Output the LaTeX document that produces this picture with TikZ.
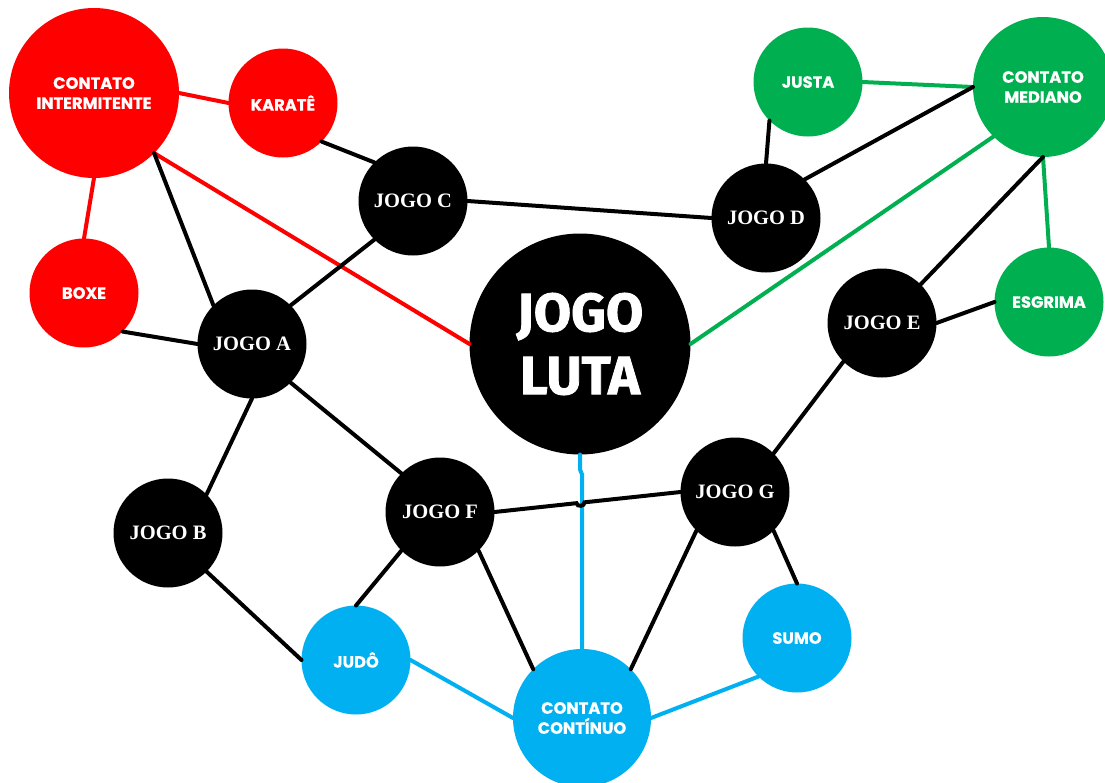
\documentclass[tikz,border=0pt]{standalone}
\usepackage{fontspec}
\setmainfont{Liberation Serif}
\newfontfamily\labfont{Poppins}[BoldFeatures={FakeBold=0.6}]
\newfontfamily\bigfont{Fira Sans}[BoldFeatures={FakeBold=1.5}]
\usetikzlibrary{calc}
\definecolor{cred}{HTML}{FF0000}
\definecolor{cgreen}{HTML}{00B050}
\definecolor{cblue}{HTML}{00B0F0}
\begin{document}
\begin{tikzpicture}[x=1pt,y=-1pt,
  circ/.style={circle, inner sep=0pt, outer sep=0pt, text=white, align=center},
  jogo/.style={circ, fill=black, minimum size=109pt, font=\fontsize{20.5}{22}\selectfont\bfseries},
  catR/.style={circ, fill=cred, font=\labfont\bfseries\fontsize{16.3}{20}\selectfont},
  catG/.style={circ, fill=cgreen, font=\labfont\bfseries\fontsize{16.3}{20}\selectfont},
  catB/.style={circ, fill=cblue, font=\labfont\bfseries\fontsize{16.3}{20}\selectfont},
  edge/.style={line width=4pt, line cap=round},
]
\fill[white] (0,0) rectangle (1105,782);
\useasboundingbox (0,0) rectangle (1105,782);

\node[catR, minimum size=170pt] (ci) at (94,93) {CONTATO\\INTERMITENTE};
\node[catR, minimum size=109pt] (kar) at (283,103) {KARATÊ};
\node[catR, minimum size=109pt] (boxe) at (84,293) {BOXE};
\node[jogo] (ja) at (252,344) {JOGO A};
\node[jogo] (jb) at (168,533) {JOGO B};
\node[jogo] (jc) at (413,201) {JOGO C};
\node[jogo] (jd) at (766,218) {JOGO D};
\node[jogo] (je) at (882,323) {JOGO E};
\node[jogo] (jf) at (440,512) {JOGO F};
\node[jogo] (jg) at (735,492) {JOGO G};
\node[circ, fill=black, minimum size=221pt, font=\bigfont\bfseries\fontsize{54}{63}\selectfont] (luta) at (580,344) {JOGO\\LUTA};
\node[catG, minimum size=109pt] (justa) at (808,82) {JUSTA};
\node[catG, minimum size=140pt] (cm) at (1043,87) {CONTATO\\MEDIANO};
\node[catG, minimum size=109pt] (esg) at (1049,302) {ESGRIMA};
\node[catB, minimum size=109pt] (judo) at (356,660) {JUDÔ};
\node[catB, minimum size=109pt] (sumo) at (797,638) {SUMO};
\node[catB, minimum size=138pt] (cc) at (582,718) {CONTATO\\CONTÍNUO};

% red
\draw[edge, cred] (ci.east) -- (kar.west);
\draw[edge, cred] (ci.south) -- (boxe.north);
\draw[edge, cred] (ci.south east) -- (luta.west);
% green
\draw[edge, cgreen] (justa.east) -- (cm.west);
\draw[edge, cgreen] (cm.south) -- (esg.north);
\draw[edge, cgreen] (cm.south west) -- (luta.east);
% blue
\draw[edge, cblue] (judo.east) -- (cc.west);
\draw[edge, cblue] (sumo.south west) -- (cc.east);
\draw[edge, cblue] (luta.south) -- ++(0,15) -- ++(2,5) -- (cc.north);
% black
\draw[edge] (ci.south east) -- (ja.north west);
\draw[edge] (kar.south east) -- (jc.north west);
\draw[edge] (boxe.south east) -- (ja.west);
\draw[edge] (jc.south west) -- (ja.north east);
\draw[edge] (jc.east) -- (jd.west);
\draw[edge] (ja.south) -- (jb.north east);
\draw[edge] (ja.south east) -- (jf.north west);
\draw[edge] (jb.south east) -- (judo.west);
\draw[edge] (jf.south west) -- (judo.north);
\draw[edge] (jf.south east) -- (cc.north west);
\draw[edge] (jg.south west) -- (cc.north east);
\draw[edge] (jg.south east) -- (sumo.north);
\draw[edge] (jg.north east) -- (je.south west);
\draw[edge] (je.east) -- (esg.west);
\draw[edge] (je.north east) -- (cm.south);
\draw[edge] (jd.north) -- (justa.south west);
\draw[edge] (jd.north east) -- (cm.west);
% F-G with a hop over the blue line
\coordinate (h) at (intersection of jf.east--jg.west and cc.north--luta.south);
\draw[edge] (jf.east) -- ($(h)!4pt!(jf.east)$) to[bend right=90, looseness=1.3] ($(h)!4pt!(jg.west)$) -- (jg.west);
\end{tikzpicture}
\end{document}
